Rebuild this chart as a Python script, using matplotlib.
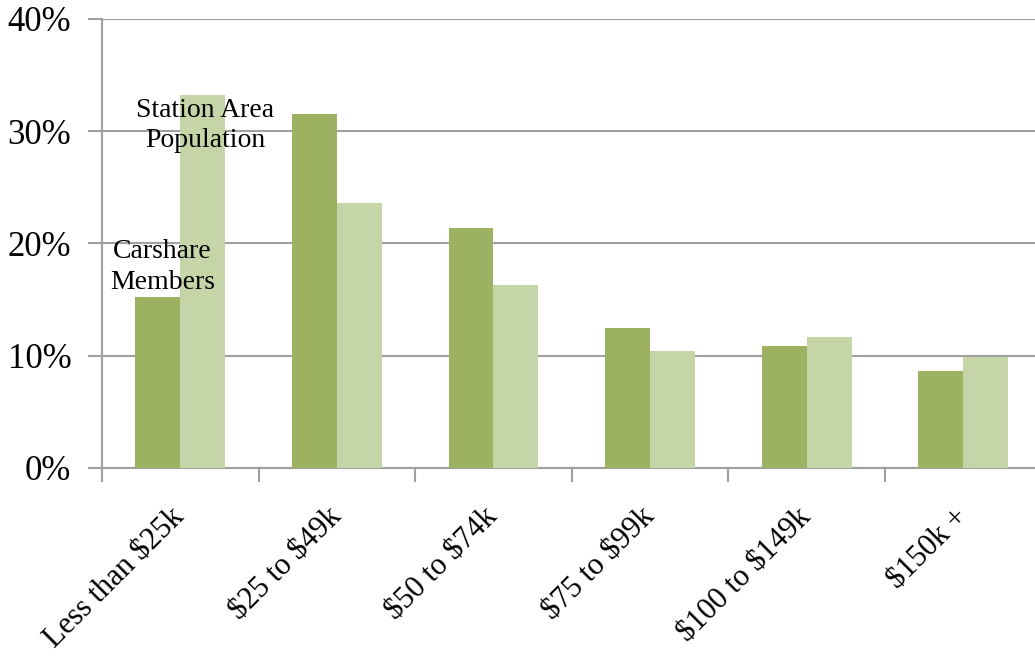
import matplotlib
matplotlib.use("Agg")
import matplotlib.pyplot as plt
import numpy as np

# Household income distribution, share of each group
categories = ["Less than $25k", "$25 to $49k", "$50 to $74k",
              "$75 to $99k", "$100 to $149k", "$150k +"]
carshare_members = [15.2, 31.5, 21.4, 12.5, 10.9, 8.6]
station_area_pop = [33.2, 23.6, 16.3, 10.4, 11.7, 9.9]
y_ticks = [0, 10, 20, 30, 40]

dark_green = "#9CB162"
light_green = "#C5D5A8"
grid_gray = "#A0A0A0"

plt.rcParams["font.family"] = ["Liberation Serif", "DejaVu Serif"]
plt.rcParams["text.parse_math"] = False

fig = plt.figure(figsize=(10.35, 6.58), dpi=100)
# right edge of the last category runs slightly past the figure
ax = fig.add_axes([102 / 1035, 190 / 658, 939.5 / 1035, 449 / 658])

x = np.arange(len(categories))
w = 0.287
ax.bar(x - w / 2, carshare_members, w, color=dark_green, zorder=3)
ax.bar(x + w / 2, station_area_pop, w, color=light_green, zorder=3)

ax.set_xlim(-0.5, len(categories) - 0.5)
ax.set_ylim(0, 40)
ax.set_yticks(y_ticks)
ax.set_yticklabels([f"{v}%" for v in y_ticks], fontsize=25)
ax.yaxis.grid(True, color=grid_gray, linewidth=1.5, zorder=0)

# category boundaries get the tick marks, centres get the labels
ax.set_xticks(x)
ax.set_xticklabels(categories, fontsize=22, rotation=45, ha="right",
                   rotation_mode="anchor", va="center")
ax.tick_params(axis="x", which="major", length=0, pad=32)
ax.set_xticks(np.arange(-0.5, len(categories)), minor=True)
ax.tick_params(axis="x", which="minor", length=10, width=1.5, color=grid_gray)
ax.tick_params(axis="y", length=10, width=1.5, color=grid_gray, pad=12)

for side in ["top", "right"]:
    ax.spines[side].set_visible(False)
for side in ["left", "bottom"]:
    ax.spines[side].set_color(grid_gray)
    ax.spines[side].set_linewidth(1.5)

ax.text(0.16, 30.5, "Station Area\nPopulation", fontsize=20,
        ha="center", va="center", linespacing=1.3, zorder=4)
ax.text(-0.115, 17.9, "Carshare\nMembers", fontsize=20,
        ha="center", va="center", linespacing=1.3, zorder=4)

fig.savefig("out.png", dpi=100)
